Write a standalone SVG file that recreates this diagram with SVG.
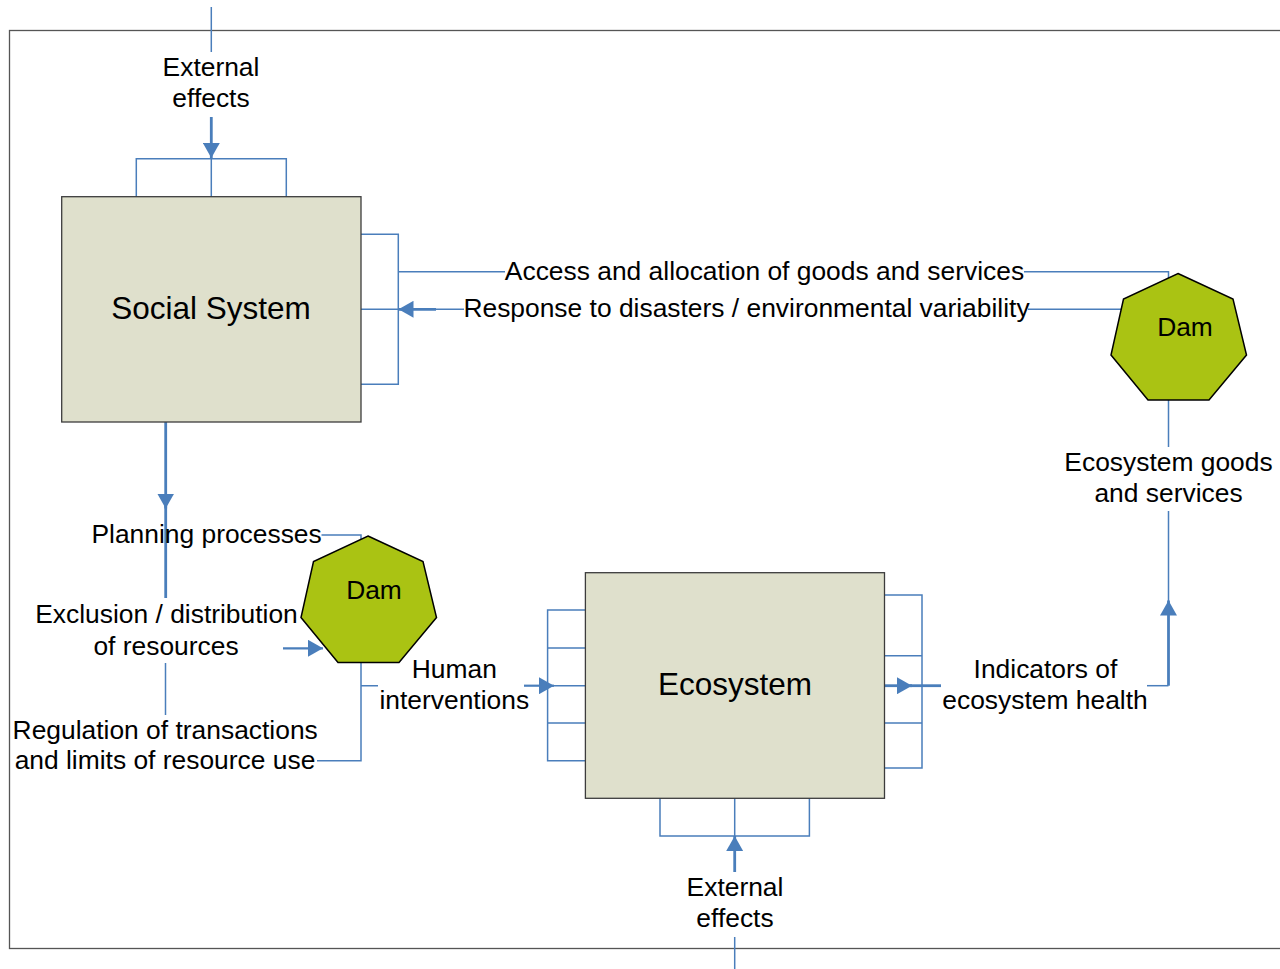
<svg xmlns="http://www.w3.org/2000/svg" width="1280" height="969" viewBox="0 0 1280 969">
<defs>
<style>
.frame{fill:none;stroke:#555;stroke-width:1.3}
.box{fill:#dfe0cc;stroke:#3c3c3c;stroke-width:1.3}
.dam{fill:#aac313;stroke:#000;stroke-width:1.5}
.thin{fill:none;stroke:#4a7ebb;stroke-width:1.5}
.thick{fill:none;stroke:#4a7ebb;stroke-width:2.8}
.mid{fill:none;stroke:#4a7ebb;stroke-width:2.2}
.arr{marker-end:url(#ah)}
text{font-family:"Liberation Sans",Arial,sans-serif;font-size:26.4px;fill:#000;text-anchor:middle}
.big{font-size:31.5px}
</style>
<marker id="ah" viewBox="0 0 15 17" refX="15" refY="8.5" markerWidth="15" markerHeight="17" markerUnits="userSpaceOnUse" orient="auto">
<path d="M0 0 L15 8.5 L0 17 Z" fill="#4a7ebb"/>
</marker>
<polygon id="hept" points="67,0 122,25.5 135.5,81.5 98,126.5 37,126.5 0,81.5 12.5,25.5"/>
</defs>
<rect class="frame" x="9.5" y="30.5" width="1290" height="918"/>
<g id="connectors">
<path class="thin" d="M211.3 7 V52"/>
<path class="thick arr" d="M211.3 117 V158"/>
<path class="thin" d="M136.3 196.7 V158.7 H286.3 V196.7 M211.3 158.7 V196.7"/>
<path class="thin" d="M361 234.3 H398.3 V384.3 H361 M361 309.3 H464 M398.3 271.7 H505 M1024 271.7 H1168.5 V278 M1028 309.3 H1121.5"/>
<path class="thick arr" d="M436 309.3 H398.5"/>
<path class="thick arr" d="M165.7 422 V508.5"/>
<path class="thick" d="M165.7 506 V598"/>
<path class="thin" d="M321.5 535 H361 V539.5"/>
<path class="mid arr" d="M283 648.3 H323"/>
<path class="thin" d="M165.5 663 V715"/>
<path class="thin" d="M317 760.7 H361 V662.5 M361 685.7 H378"/>
<path class="mid arr" d="M524 685.7 H554"/>
<path class="thin" d="M585 610 H547.6 V760.7 H585 M547.6 648 H585 M547.6 685.7 H585 M547.6 723 H585"/>
<path class="thin" d="M885 595 H922 V768 H885 M885 655.7 H922 M885 723 H922"/>
<path class="thick arr" d="M885 685.7 H912"/>
<path class="thick" d="M910 685.7 H941"/>
<path class="thin" d="M660 798 V836 H809.4 V798 M734.7 798 V836"/>
<path class="thick arr" d="M734.7 872 V836"/>
<path class="thin" d="M734.7 937 V969"/>
<path class="thin" d="M1147 685.7 H1168.5"/>
<path class="thick arr" d="M1168.5 685.7 V600.5"/>
<path class="thin" d="M1168.5 601 V511 M1168.5 400 V447"/>
</g>
<g id="social-system">
<rect class="box" x="61.7" y="196.7" width="299.3" height="225.3"/>
<text class="big" x="211" y="318.5">Social System</text>
</g>
<g id="ecosystem">
<rect class="box" x="585.4" y="572.7" width="299.1" height="225.6"/>
<text class="big" x="735" y="695">Ecosystem</text>
</g>
<g id="dam-right">
<use href="#hept" class="dam" x="1111" y="273.5"/>
<text x="1185" y="336">Dam</text>
</g>
<g id="dam-left">
<use href="#hept" class="dam" x="301" y="536"/>
<text x="374" y="598.5">Dam</text>
</g>
<g id="labels">
<text x="211" y="76">External</text>
<text x="211" y="107">effects</text>
<text x="764.5" y="279.5">Access and allocation of goods and services</text>
<text x="746.5" y="317">Response to disasters / environmental variability</text>
<text x="1168.5" y="471">Ecosystem goods</text>
<text x="1168.5" y="502">and services</text>
<text x="206.6" y="543">Planning processes</text>
<text x="166.5" y="622.5">Exclusion / distribution</text>
<text x="166" y="654.5">of resources</text>
<text x="165.2" y="738.5">Regulation of transactions</text>
<text x="165" y="769">and limits of resource use</text>
<text x="454.3" y="678">Human</text>
<text x="454.3" y="709">interventions</text>
<text x="1045.5" y="677.5">Indicators of</text>
<text x="1045" y="709">ecosystem health</text>
<text x="735" y="896">External</text>
<text x="735" y="927">effects</text>
</g>
</svg>
